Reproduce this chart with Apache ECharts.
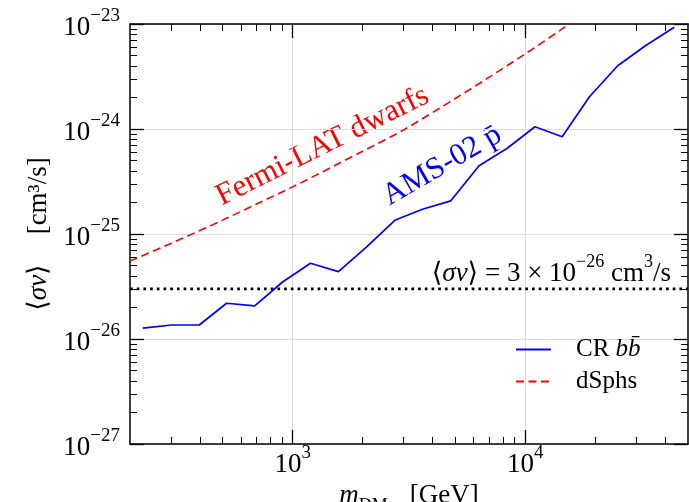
<!DOCTYPE html>
<html>
<head>
<meta charset="utf-8">
<script src="https://cdn.jsdelivr.net/npm/echarts@6/dist/echarts.min.js"></script>
<style>
  html, body { margin: 0; padding: 0; background: #fff; }
  #main { width: 689px; height: 502px; }
</style>
</head>
<body>
<div id="main"></div>
<script>
// AMS-02 反质子限制 (CR b bbar)
const crMass = [227, 302, 397, 520, 687, 905, 1193, 1573, 2075, 2762, 3641, 4784, 6326, 8363, 10996, 14396, 18862, 24943, 32792, 43652];
const crSigma = [1.27e-26, 1.36e-26, 1.36e-26, 2.19e-26, 2.07e-26, 3.49e-26, 5.26e-26, 4.38e-26, 7.5e-26, 1.36e-25,
  1.73e-25, 2.07e-25, 4.47e-25, 6.55e-25, 1.05e-24, 8.45e-25, 2.03e-24, 4.0e-24, 6.2e-24, 9.3e-24];

// Fermi-LAT dwarfs
const dsphMass = [200, 300, 500, 700, 1000, 2000, 3000, 5000, 7000, 10000, 14000, 20000];
const dsphSigma = [5.53e-26, 8.13e-26, 1.355e-25, 1.93e-25, 2.81e-25, 6.14e-25, 9.82e-25, 1.95e-24, 3.12e-24, 5.2e-24, 8.6e-24, 1.52e-23];

// thermal cross section
const thermalMass = [200, 50000];
const thermalSigma = [3e-26, 3e-26];

// ticks
const xMajor = [1000, 10000];
const xMinor = [300, 400, 500, 600, 700, 800, 900,
  2000, 3000, 4000, 5000, 6000, 7000, 8000, 9000,
  20000, 30000, 40000];
const yMajor = [1e-27, 1e-26, 1e-25, 1e-24, 1e-23];
const yMinor = [2e-27, 3e-27, 4e-27, 5e-27, 6e-27, 7e-27, 8e-27, 9e-27,
  2e-26, 3e-26, 4e-26, 5e-26, 6e-26, 7e-26, 8e-26, 9e-26,
  2e-25, 3e-25, 4e-25, 5e-25, 6e-25, 7e-25, 8e-25, 9e-25,
  2e-24, 3e-24, 4e-24, 5e-24, 6e-24, 7e-24, 8e-24, 9e-24];

// echarts 对太小的数取整会丢掉刻度, 所以 y 轴用 1e-27 为单位
const Y_UNIT = 1e-27;
const Y_EXP = -27;

const SERIF = "'Liberation Serif', 'DejaVu Serif', serif";
const zip = (xs, ys) => xs.map((x, i) => [x, ys[i] / Y_UNIT]);
const scaled = arr => arr.map(v => v / Y_UNIT);

const tickRich = {
  b: { fontFamily: SERIF, fontSize: 27, lineHeight: 34, verticalAlign: "bottom", color: "#000" },
  s: { fontFamily: SERIF, fontSize: 19, lineHeight: 18, verticalAlign: "top", color: "#000" }
};
const powLabel = shift => v => "{b|10}{s|" + String(Math.round(Math.log10(v)) + shift).replace("-", "\u2212") + "}";

function logAxis(dim, pos, ticks, len, major) {
  const isX = dim === "x";
  return {
    type: "log",
    logBase: 10,
    gridIndex: 0,
    position: pos,
    min: isX ? 200 : 1,
    max: isX ? 50000 : 1e4,
    axisLine: { show: major, onZero: false, lineStyle: { color: "#000", width: 1.5 } },
    axisTick: { show: true, inside: true, length: len, customValues: ticks, lineStyle: { color: "#000", width: major ? 1.3 : 1 } },
    axisLabel: {
      show: major && (pos === "bottom" || pos === "left"),
      customValues: ticks,
      margin: isX ? 0 : 10,
      formatter: powLabel(isX ? 0 : Y_EXP),
      rich: tickRich
    },
    splitLine: { show: major && (pos === "bottom" || pos === "left"), lineStyle: { color: "#dcdcdc", width: 1 } },
    minorTick: { show: false },
    minorSplitLine: { show: false }
  };
}

const xAxes = [
  logAxis("x", "bottom", xMajor, 14, true),
  logAxis("x", "bottom", xMinor, 7, false),
  logAxis("x", "top", xMajor, 14, true),
  logAxis("x", "top", xMinor, 7, false)
];
xAxes[0].name = "{i|m}{sub|DM}{n|[GeV]}";
xAxes[0].nameLocation = "middle";
xAxes[0].nameGap = 23;
xAxes[0].nameTextStyle = {
  rich: {
    i: { fontFamily: SERIF, fontStyle: "italic", fontSize: 27, lineHeight: 32, verticalAlign: "top", color: "#000" },
    sub: { fontFamily: SERIF, fontSize: 18, lineHeight: 18, verticalAlign: "bottom", color: "#000" },
    n: { fontFamily: SERIF, fontSize: 27, lineHeight: 32, verticalAlign: "top", color: "#000", padding: [0, 0, 0, 22] }
  }
};

const yAxes = [
  logAxis("y", "left", scaled(yMajor), 14, true),
  logAxis("y", "left", scaled(yMinor), 7, false),
  logAxis("y", "right", scaled(yMajor), 14, true),
  logAxis("y", "right", scaled(yMinor), 7, false)
];
yAxes[0].name = "{n|\u27e8}{i|\u03c3v}{n|\u27e9}{g|[cm\u00b3/s]}";
yAxes[0].nameLocation = "middle";
yAxes[0].nameRotate = 90;
yAxes[0].nameGap = 72;
yAxes[0].nameTextStyle = {
  rich: {
    n: { fontFamily: SERIF, fontSize: 27, lineHeight: 32, color: "#000" },
    i: { fontFamily: SERIF, fontStyle: "italic", fontSize: 27, lineHeight: 32, color: "#000" },
    g: { fontFamily: SERIF, fontSize: 27, lineHeight: 32, color: "#000", padding: [0, 0, 0, 30] }
  }
};

const chart = echarts.init(document.getElementById("main"));

const option = {
  animation: false,
  backgroundColor: "#fff",
  grid: { left: 130, right: 1, top: 24, bottom: 58, containLabel: false, outerBoundsMode: "none" },
  xAxis: xAxes,
  yAxis: yAxes,
  legend: {
    data: ["CR bb", "dSphs"],
    orient: "vertical",
    left: 515,
    top: 337,
    padding: 0,
    itemWidth: 35,
    itemHeight: 14,
    itemGap: 7,
    itemStyle: { opacity: 0 },
    formatter: name => name === "CR bb" ? "{n|CR }{i|bb\u0304}" : "{n|dSphs}",
    textStyle: {
      color: "#000",
      rich: {
        n: { fontFamily: SERIF, fontSize: 25, lineHeight: 30, color: "#000", padding: [0, 0, 0, 20] },
        i: { fontFamily: SERIF, fontStyle: "italic", fontSize: 25, lineHeight: 30, color: "#000" }
      }
    }
  },
  series: [
    {
      name: "thermal",
      type: "line",
      data: zip(thermalMass, thermalSigma),
      symbol: "none",
      silent: true,
      lineStyle: { color: "#000", width: 2.7, type: [2.7, 4] }
    },
    {
      name: "dSphs",
      type: "line",
      data: zip(dsphMass, dsphSigma),
      symbol: "none",
      smooth: 0.3,
      clip: true,
      lineStyle: { color: "#ff0000", width: 1.6, type: [8, 4.5] },
      itemStyle: { color: "#ff0000" }
    },
    {
      name: "CR bb",
      type: "line",
      data: zip(crMass, crSigma),
      symbol: "none",
      clip: true,
      lineStyle: { color: "#0000ff", width: 1.7 },
      itemStyle: { color: "#0000ff" }
    }
  ],
  graphic: [
    {
      type: "text",
      x: 225, y: 212,
      rotation: 26.5 * Math.PI / 180,
      style: { text: "Fermi-LAT dwarfs", fontFamily: SERIF, fontSize: 31, fill: "#ff0000", textAlign: "left", textVerticalAlign: "bottom" }
    },
    {
      type: "text",
      x: 393, y: 212,
      rotation: 30 * Math.PI / 180,
      style: { text: "AMS-02 p\u0304", fontFamily: SERIF, fontSize: 31, fill: "#0000ff", textAlign: "left", textVerticalAlign: "bottom" }
    },
    {
      type: "text",
      x: 671, y: 270,
      style: {
        text: "{n|\u27e8}{i|\u03c3v}{n|\u27e9 = 3 \u00d7 10}{s|\u221226}{n| cm}{s|3}{n|/s}",
        textAlign: "right",
        textVerticalAlign: "middle",
        rich: {
          n: { fontFamily: SERIF, fontSize: 27, lineHeight: 34, verticalAlign: "bottom", fill: "#000" },
          i: { fontFamily: SERIF, fontStyle: "italic", fontSize: 27, lineHeight: 34, verticalAlign: "bottom", fill: "#000" },
          s: { fontFamily: SERIF, fontSize: 18, lineHeight: 18, verticalAlign: "top", fill: "#000" }
        }
      }
    }
  ]
};

chart.setOption(option);
</script>
</body>
</html>
